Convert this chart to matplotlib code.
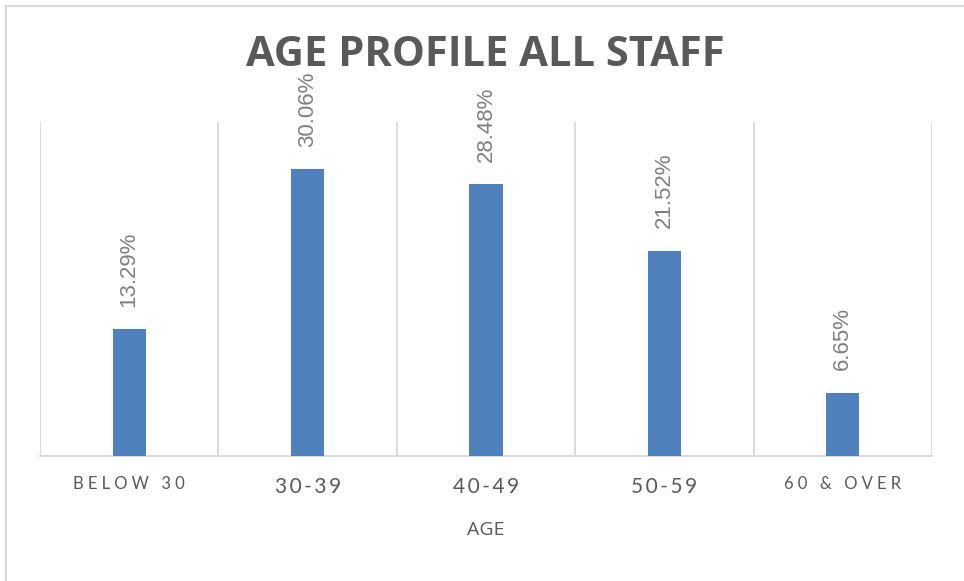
import numpy as np
import matplotlib
matplotlib.use('Agg')
import matplotlib.pyplot as plt
from matplotlib.lines import Line2D

# Datos
categorias = ['BELOW 30', '30-39', '40-49', '50-59', '60 & OVER']
porcentajes = [13.29, 30.06, 28.48, 21.52, 6.65]
etiquetas = ['13.29%', '30.06%', '28.48%', '21.52%', '6.65%']

gris = '#595959'
azul = '#4F81BD'
linea = '#D9D9D9'

def espaciar(txt, sep='\u2009'):
    return sep.join(list(txt))

fig = plt.figure(figsize=(9.64, 5.81), dpi=100)
ax = fig.add_axes([40/964, 125/581, 892/964, 334/581])

x = np.arange(len(categorias))
ax.bar(x, porcentajes, width=0.185, color=azul, zorder=3)

ax.set_xlim(-0.5, len(categorias) - 0.5)
ax.set_ylim(0, 35)

# lineas verticales entre categorias
for b in np.arange(-0.5, len(categorias), 1):
    ax.axvline(b, color=linea, lw=1.3, zorder=1)

for s in ['top', 'left', 'right']:
    ax.spines[s].set_visible(False)
ax.spines['bottom'].set_color(linea)
ax.spines['bottom'].set_linewidth(1.3)
ax.set_yticks([])
ax.set_xticks(x)
ax.set_xticklabels([])
ax.tick_params(axis='x', length=0)

# etiquetas de categorias (tamaño distinto en los extremos)
for i, c in enumerate(categorias):
    extremo = i in (0, len(categorias) - 1)
    if extremo:
        ax.text(i, -2.93, espaciar(c, '\u2009\u200a\u200a'), ha='center', va='center',
                color=gris, fontsize=12, family=['Lato', 'DejaVu Sans'])
    else:
        ax.text(i, -3.3, espaciar(c, '\u200a\u200a'), ha='center', va='center',
                color=gris, fontsize=15, family=['Lato', 'DejaVu Sans'])

# etiquetas de datos
for i, (v, t) in enumerate(zip(porcentajes, etiquetas)):
    ax.annotate(t, (i, v), xytext=(0, 16), textcoords='offset points',
                rotation=90, ha='center', va='bottom', color='#7F7F7F',
                fontsize=16, family=['Liberation Sans', 'DejaVu Sans'])

ax.text(2, -7.75, 'AGE', ha='center', va='center', color=gris,
        fontsize=14, family=['Open Sans', 'DejaVu Sans'])

fig.text(485/964, 1 - 55/581, 'AGE PROFILE ALL STAFF', ha='center', va='center',
         color=gris, fontsize=30, fontweight='bold', family=['Open Sans', 'DejaVu Sans'])

# borde del grafico
fig.add_artist(Line2D([6/964, 1], [1 - 6/581] * 2, color=linea, lw=1.5))
fig.add_artist(Line2D([6/964] * 2, [0, 1 - 6/581], color=linea, lw=1.5))

fig.savefig('out.png', dpi=100, facecolor='white')
